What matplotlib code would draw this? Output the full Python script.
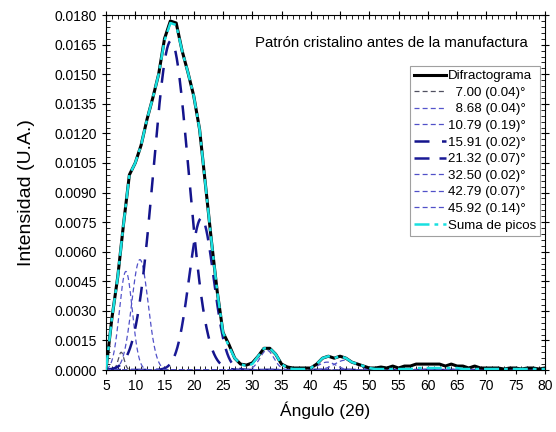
import numpy as np
import matplotlib.pyplot as plt
from matplotlib.ticker import MultipleLocator

plt.rcParams['font.family'] = ['Liberation Sans', 'DejaVu Sans']

# Difractograma
angulo = np.arange(5, 81, 1)
difracto = [0.0, 0.0026, 0.0047, 0.0074, 0.0099, 0.0105, 0.0114, 0.0127, 0.0138, 0.0150,
            0.0168, 0.0177, 0.0176, 0.0162, 0.0151, 0.0139, 0.0122, 0.0094, 0.0066, 0.0040,
            0.0019, 0.0013, 0.0006, 0.0003, 0.00025, 0.00036, 0.0007, 0.0011, 0.0011, 0.0008,
            0.0003, 0.00015, 0.0001, 0.0001, 0.0001, 0.0001, 0.0003, 0.0006, 0.0007, 0.0006,
            0.0007, 0.0006, 0.0004, 0.0003, 0.0002, 0.0001, 0.0001, 0.00015, 0.0001, 0.0002,
            0.0001, 0.0002, 0.0002, 0.0003, 0.0003, 0.0003, 0.0003, 0.0003, 0.0002, 0.0003,
            0.0002, 0.0002, 0.0001, 0.0002, 0.0001, 0.0001, 0.0001, 0.0001, 0.00005, 0.0001,
            0.0001, 0.00005, 0.0001, 0.0001, 0.00005, 0.0001]

# Suma de picos
suma = [0.0, 0.0026, 0.0047, 0.0074, 0.0099, 0.0105, 0.0114, 0.0127, 0.0138, 0.0150,
        0.0167, 0.0176, 0.0175, 0.0162, 0.0151, 0.0139, 0.0122, 0.0094, 0.0066, 0.0040,
        0.0019, 0.0012, 0.0006, 0.0003, 0.0002, 0.0003, 0.0007, 0.0011, 0.0011, 0.0008,
        0.0003, 0.0001, 0.00005, 0.00005, 0.00005, 0.0001, 0.0003, 0.0006, 0.0007, 0.0006,
        0.0007, 0.0006, 0.0004, 0.0003, 0.0002, 0.0001, 0.00005, 0.00005, 0.00005, 0.00005,
        0.00005, 0.00005, 0.00005, 0.0001, 0.0001, 0.0001, 0.0001, 0.0001, 0.0001, 0.0001,
        0.0001, 0.00005, 0.00005, 0.00005, 0.00005, 0.00005, 0.00005, 0.00005, 0.00005, 0.00005,
        0.00005, 0.00005, 0.00005, 0.00005, 0.00005, 0.00005]

# Picos ajustados: centro, altura, ancho (sigma)
etiquetas = ["  7.00 (0.04)°", "  8.68 (0.04)°", "10.79 (0.19)°", "15.91 (0.02)°",
             "21.32 (0.07)°", "32.50 (0.02)°", "42.79 (0.07)°", "45.92 (0.14)°"]
centros = [7.6, 8.4, 10.8, 16.1, 21.3, 32.5, 42.8, 45.9]
alturas = [0.0009, 0.0050, 0.0056, 0.0167, 0.0077, 0.0010, 0.0004, 0.0005]
anchos = [0.5, 1.1, 1.4, 3.0, 2.1, 1.2, 1.5, 1.8]

colores = ['#505060', '#5555cc', '#5050c8', '#14148c', '#1a1a96', '#5050c8', '#5050c8', '#5050c8']
grosores = [0.9, 0.9, 0.9, 1.8, 1.8, 0.9, 0.9, 0.9]
guiones = [(4, 2.5), (4, 2.5), (4, 2.5), (6, 5), (6, 4), (4, 2.5), (4, 2.5), (4, 2.5)]

fig = plt.figure(figsize=(5.56, 4.32), dpi=100)
ax = fig.add_axes([0.1906, 0.1435, 0.7894, 0.8215])

ax.plot(angulo, difracto, color='black', lw=2.2, label='Difractograma', zorder=3)

xx = np.linspace(5, 80, 1501)
for c, h, w, lab, col, lw, ds in zip(centros, alturas, anchos, etiquetas, colores, grosores, guiones):
    yy = h * np.exp(-(xx - c) ** 2 / (2 * w ** 2))
    ax.plot(xx, yy, color=col, lw=lw, dashes=ds, label=lab, zorder=2)

ax.plot(angulo, suma, color='#19e0e0', lw=1.8, dashes=(6, 2, 1.5, 2), label='Suma de picos', zorder=4)

ax.set_xlim(5, 80)
ax.set_ylim(0, 0.018)
ax.xaxis.set_major_locator(MultipleLocator(5))
ax.xaxis.set_minor_locator(MultipleLocator(1))
ax.yaxis.set_major_locator(MultipleLocator(0.0015))
ax.yaxis.set_minor_locator(MultipleLocator(0.0003))
ax.yaxis.set_major_formatter(plt.FuncFormatter(lambda v, p: f"{v:.4f}"))
ax.tick_params(which='both', top=True, right=True, labelsize=10)
ax.tick_params(which='major', direction='inout', length=6)
ax.tick_params(which='minor', direction='in', length=3)

ax.set_xlabel('Ángulo (2θ)', fontsize=12.5, labelpad=6)
ax.set_ylabel('Intensidad (U.A.)', fontsize=14, labelpad=14)

ax.text(0.96, 0.921, 'Patrón cristalino antes de la manufactura', transform=ax.transAxes,
        ha='right', va='center', fontsize=10.8)

leg = ax.legend(loc='upper right', bbox_to_anchor=(0.99, 0.857), fontsize=9.6, frameon=True,
                fancybox=False, edgecolor='#888888', handlelength=2.4, handletextpad=0.2,
                labelspacing=0.32, borderpad=0.3, borderaxespad=0)
leg.get_frame().set_linewidth(0.8)

fig.savefig('out.png', dpi=100)
